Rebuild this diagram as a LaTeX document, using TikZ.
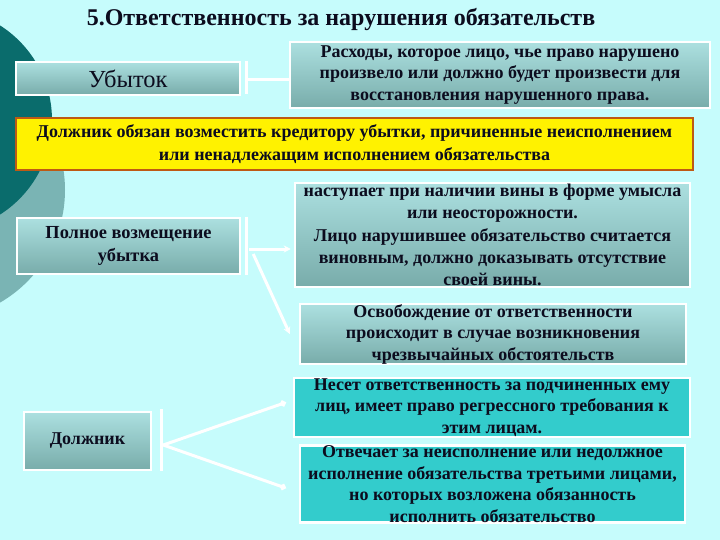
\documentclass[tikz,border=0pt]{standalone}
\usepackage{fontspec}
\setmainfont{Liberation Serif}
\usetikzlibrary{calc,arrows.meta}
\definecolor{bg}{RGB}{198,252,252}
\definecolor{darkc}{RGB}{10,108,108}
\definecolor{lightc}{RGB}{122,180,180}
\definecolor{gtop}{RGB}{172,224,224}
\definecolor{gbot}{RGB}{120,172,170}
\definecolor{tealbox}{RGB}{51,204,204}
\definecolor{yelbd}{RGB}{190,90,20}
\definecolor{txt}{RGB}{12,12,30}
\begin{document}
\begin{tikzpicture}[x=1pt,y=-1pt,
  gbox/.style={draw=white, line width=2.5pt, top color=gtop, bottom color=gbot,
    text=txt, align=center, inner sep=0pt,
    font=\fontsize{18}{21.5}\selectfont\bfseries},
  tbox/.style={gbox, fill=tealbox, top color=tealbox, bottom color=tealbox},
  conn/.style={draw=white, line width=3pt},
  arr/.style={conn, -{Stealth[length=7pt,width=7pt]}},
  dot/.style={conn, -{Circle[length=6pt]}}]
\useasboundingbox (0,0) rectangle (720,540);
\fill[bg] (0,0) rectangle (720,540);
\begin{scope}
  \clip (0,0) rectangle (720,540);
  \fill[lightc] (-65,190) circle (130);
  \fill[darkc] (-60,120) circle (112);
\end{scope}

\node[text=txt, font=\fontsize{24}{26}\selectfont\bfseries] (title) at (341,20)
  {5.Ответственность за нарушения обязательств};

\node[gbox, minimum width=224pt, minimum height=33pt,
  font=\fontsize{24.5}{26}\selectfont] (ub) at (128,78.5) {Убыток};
\node[gbox, minimum width=420pt, minimum height=66pt] (rash) at (500,75)
  {Расходы, которое лицо, чье право нарушено\\произвело или должно будет произвести для\\восстановления нарушенного права.};
\node[draw=yelbd, line width=1.5pt, fill=yellow, text=txt, align=center, inner sep=0pt,
  minimum width=677pt, minimum height=52pt,
  font=\fontsize{18}{23}\selectfont\bfseries] (yel) at (354.5,144)
  {Должник обязан возместить кредитору убытки, причиненные неисполнением\\или ненадлежащим исполнением обязательства};

\node[gbox, minimum width=223pt, minimum height=56pt, font=\fontsize{18.4}{23}\selectfont\bfseries] (poln) at (128.5,246)
  {Полное возмещение\\убытка};
\node[gbox, minimum width=395pt, minimum height=104pt, font=\fontsize{18}{22.2}\selectfont\bfseries] (nast) at (492.5,235)
  {наступает при наличии вины в форме умысла\\или неосторожности.\\Лицо нарушившее обязательство считается\\виновным, должно доказывать отсутствие\\своей вины.};
\node[gbox, minimum width=386pt, minimum height=58pt] (osv) at (493,334)
  {Освобождение от ответственности\\происходит в случае возникновения\\чрезвычайных обстоятельств};

\node[gbox, minimum width=127pt, minimum height=58pt] (dol) at (87.5,441) {Должник};
\node[tbox, minimum width=396pt, minimum height=59pt] (nes) at (492,407.5)
  {Несет ответственность за подчиненных ему\\лиц, имеет право регрессного требования к\\этим лицам.};
\node[tbox, minimum width=385pt, minimum height=76pt] (otv) at (492.5,484)
  {Отвечает за неисполнение или недолжное\\исполнение обязательства третьими лицами,\\но которых возложена обязанность\\исполнить обязательство};

% connectors
\draw[conn] ($(ub.north east)+(5,0)$) -- ($(ub.south east)+(5,-2)$);
\draw[conn] ($(ub.east)+(5,1.5)$) coordinate (u1) -- (u1 -| rash.west);

\draw[conn] ($(poln.north east)+(5,0)$) -- ($(poln.south east)+(5,0)$);
\draw[arr] ($(poln.east)+(8,3)$) coordinate (p1) -- ($(p1 -| nast.west)+(-3,0)$);
\draw[arr] ($(poln.east)+(12,8)$) -- ($(osv.west)+(-9,0)$);

\draw[conn] ($(dol.north east)+(9,-2)$) -- ($(dol.south east)+(9,0)$);
\draw[dot] ($(dol.east)+(11,4)$) -- ($(nes.west)+(-7,-5)$);
\draw[dot] ($(dol.east)+(11,4)$) -- ($(otv.west)+(-13,4)$);
\end{tikzpicture}
\end{document}
